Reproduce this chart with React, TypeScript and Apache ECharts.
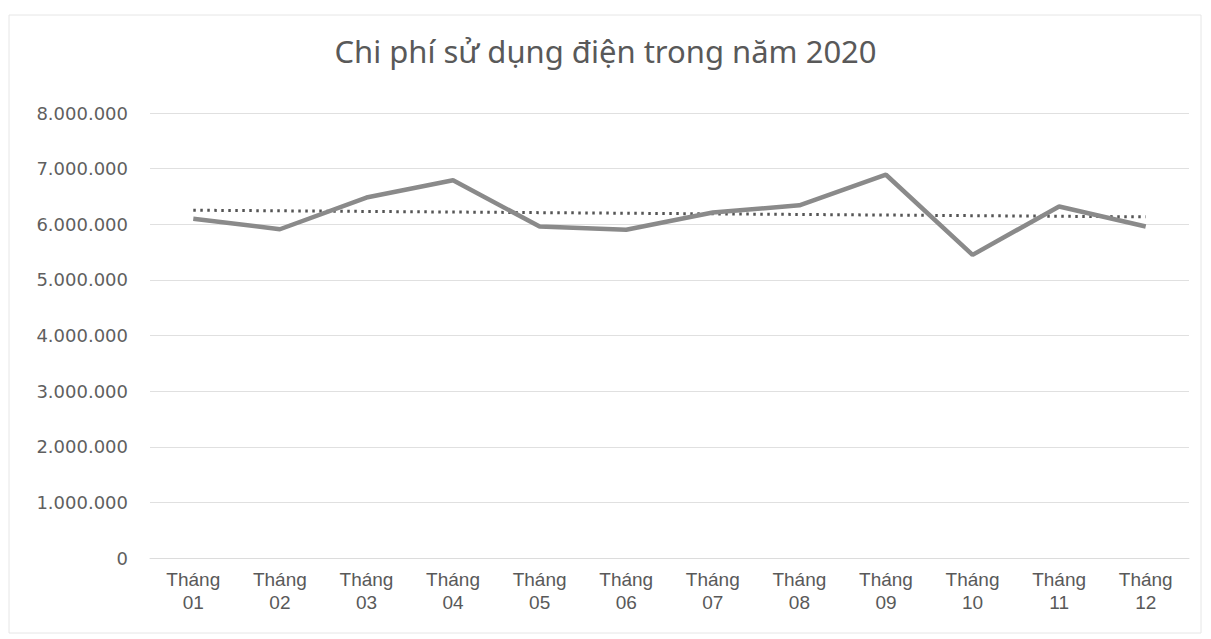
import React, { useEffect, useRef } from "react";
import * as echarts from "echarts";

const TITLE = "Chi phí sử dụng điện trong năm 2020";
const MONTHS = ["01", "02", "03", "04", "05", "06", "07", "08", "09", "10", "11", "12"];
const CATEGORIES = MONTHS.map((m) => "Tháng\n" + m);
const COSTS = [6100000, 5910000, 6480000, 6790000, 5960000, 5900000, 6210000, 6340000, 6890000, 5450000, 6320000, 5960000];
const Y_MIN = 0;
const Y_MAX = 8000000;
const Y_STEP = 1000000;

// Linear trendline (least squares) of the cost data, as Excel draws it
function linearTrend(values: number[]): number[] {
  const n = values.length;
  const xs = values.map((_, i) => i + 1);
  const mx = xs.reduce((a, b) => a + b, 0) / n;
  const my = values.reduce((a, b) => a + b, 0) / n;
  let sxy = 0;
  let sxx = 0;
  for (let i = 0; i < n; i++) {
    sxy += (xs[i] - mx) * (values[i] - my);
    sxx += (xs[i] - mx) * (xs[i] - mx);
  }
  const b = sxy / sxx;
  const a = my - b * mx;
  return xs.map((x) => a + b * x);
}

function fmt(v: number): string {
  return String(Math.round(v)).replace(/\B(?=(\d{3})+(?!\d))/g, ".");
}

export default function App() {
  const ref = useRef<HTMLDivElement>(null);
  useEffect(() => {
    if (!ref.current) return;
    const chart = echarts.init(ref.current, undefined, { renderer: "svg" });
    const trend = linearTrend(COSTS);
    chart.setOption({
      animation: false,
      backgroundColor: "#ffffff",
      title: {
        text: TITLE,
        left: "center",
        top: 30,
        textStyle: {
          fontFamily: "Noto Sans",
          fontSize: 31,
          fontWeight: "normal",
          color: "#595959",
        },
      },
      graphic: [
        {
          type: "rect",
          shape: { x: 9, y: 15, width: 1192, height: 618 },
          style: { fill: "none", stroke: "#e6e6e6", lineWidth: 1 },
          silent: true,
        },
      ],
      grid: { left: 150, right: 22, top: 113, bottom: 81 },
      xAxis: {
        type: "category",
        data: CATEGORIES,
        boundaryGap: true,
        axisLine: { show: true, lineStyle: { color: "#dcdcdc", width: 1 } },
        axisTick: { show: false },
        axisLabel: {
          color: "#595959",
          fontFamily: "Liberation Sans",
          fontSize: 19,
          lineHeight: 23,
          margin: 10,
          interval: 0,
        },
      },
      yAxis: {
        type: "value",
        min: Y_MIN,
        max: Y_MAX,
        interval: Y_STEP,
        axisLine: { show: false },
        axisTick: { show: false },
        splitLine: { lineStyle: { color: "#e0e0e0", width: 1 } },
        axisLabel: {
          color: "#5f5f5f",
          fontFamily: "DejaVu Sans",
          fontSize: 18,
          margin: 22,
          formatter: (v: number) => fmt(v),
        },
      },
      series: [
        {
          name: "Chi phí",
          type: "line",
          data: COSTS,
          symbol: "none",
          lineStyle: { color: "#8a8a8a", width: 4.5 },
          z: 3,
        },
        {
          name: "Xu hướng",
          type: "line",
          data: trend,
          symbol: "none",
          lineStyle: { color: "#555555", width: 3, type: [2.5, 4.5] },
          z: 2,
        },
      ],
    });
    return () => chart.dispose();
  }, []);
  return (
    <div
      ref={ref}
      style={{ position: "absolute", left: 0, top: 0, width: 1211, height: 639 }}
    />
  );
}
